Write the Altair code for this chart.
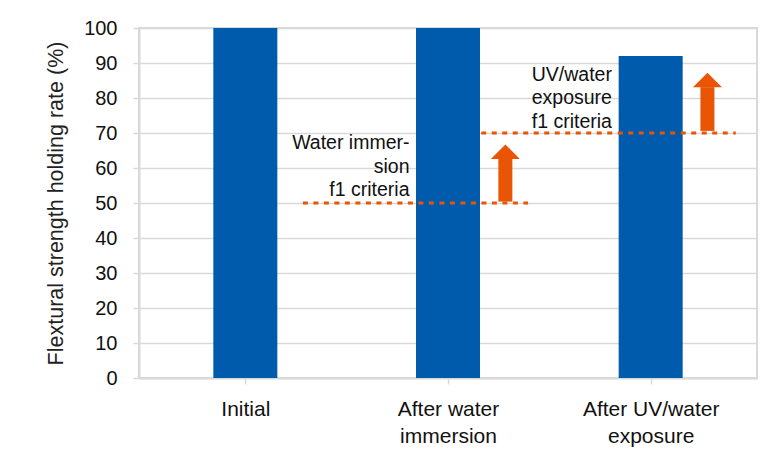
import altair as alt
import pandas as pd
import json

# Categories and bar values
categories = ["Initial", "After water\nimmersion", "After UV/water\nexposure"]
positions = [0.5, 1.5, 2.5]
values = [100, 100, 92]

# Criteria lines
crit_labels = ["Water immer-\nsion\nf1 criteria", "UV/water\nexposure\nf1 criteria"]
crit_values = [50, 70]
crit_start = [0.784, 1.664]
crit_end = [1.895, 2.92]
crit_text_x = [1.31, 2.309]
crit_text_y = [67.1, 86.6]

# Arrows
arrow_x = [1.783, 2.78]
arrow_bottom = [50.4, 70.6]
arrow_head_base = [62.6, 83.1]

# Y ticks
y_ticks = [0, 10, 20, 30, 40, 50, 60, 70, 80, 90, 100]

BLUE = "#005BAC"
ORANGE = "#E95504"
GRID = "#d9d9d9"
FONT = "Liberation Sans"

bars_df = pd.DataFrame({"pos": positions, "value": values})
crit_df = pd.DataFrame({
    "label": crit_labels, "value": crit_values,
    "start": crit_start, "end": crit_end,
    "tx": crit_text_x, "ty": crit_text_y,
})
arrow_df = pd.DataFrame({"x": arrow_x, "y0": arrow_bottom, "y1": arrow_head_base})

label_arrays = [c.split("\n") for c in categories]
label_expr = ""
for p, arr in zip(positions, label_arrays):
    label_expr += f"abs(datum.value - {p}) < 0.01 ? {json.dumps(arr)} : "
label_expr += "''"

x_scale = alt.Scale(domain=[0, 3], nice=False, zero=False)
y_scale = alt.Scale(domain=[0, 100], nice=False)

x_axis = alt.Axis(
    values=positions, labelExpr=label_expr, title=None, grid=False,
    domainColor=GRID, domainWidth=2, tickColor=GRID, tickWidth=1.5, tickSize=6,
    labelFont=FONT, labelFontSize=21, labelColor="#111111", labelPadding=14,
    labelLineHeight=27, labelAngle=0,
)
y_axis = alt.Axis(
    values=y_ticks, title="Flextural strength holding rate (%)",
    grid=True, gridColor=GRID, gridWidth=1.5, labelOverlap=False,
    domainColor=GRID, domainWidth=2, tickColor=GRID, tickWidth=1.5, tickSize=6,
    labelFont=FONT, labelFontSize=20, labelColor="#111111", labelPadding=16,
    titleFont=FONT, titleFontSize=21.5, titleFontWeight="normal", titleColor="#222222",
    titlePadding=16,
)


def X(field):
    return alt.X(field, scale=x_scale, axis=x_axis)


def Y(field):
    return alt.Y(field, scale=y_scale, axis=y_axis)


bars = alt.Chart(bars_df).mark_bar(size=64, color=BLUE).encode(
    x=X("pos:Q"), y=Y("value:Q"),
)

crit_lines = alt.Chart(crit_df).mark_rule(
    color=ORANGE, strokeWidth=3, strokeDash=[5, 5.5]
).encode(
    x=X("start:Q"), x2="end:Q", y=Y("value:Q"),
)

crit_text = alt.Chart(crit_df).mark_text(
    align="right", baseline="middle", lineBreak="\n", lineHeight=23.5,
    font=FONT, fontSize=19.5, color="#111111",
).encode(
    x=X("tx:Q"), y=Y("ty:Q"), text="label:N",
)

shafts = alt.Chart(arrow_df).mark_rule(
    color=ORANGE, strokeWidth=14, strokeCap="butt"
).encode(
    x=X("x:Q"), y=Y("y0:Q"), y2="y1:Q",
)

heads = alt.Chart(arrow_df).mark_point(
    shape="M-1,0L1,0L0,-1Z", filled=True, color=ORANGE, opacity=1, size=841, strokeWidth=0,
).encode(
    x=X("x:Q"), y=Y("y1:Q"),
)

chart = alt.layer(bars, crit_lines, shafts, heads, crit_text).properties(
    width=618, height=350,
    padding={"left": 37, "top": 10, "right": 5, "bottom": 5},
).configure_view(stroke=GRID, strokeWidth=2)

chart.save("out.html", embed_options={"renderer": "svg", "actions": False})
